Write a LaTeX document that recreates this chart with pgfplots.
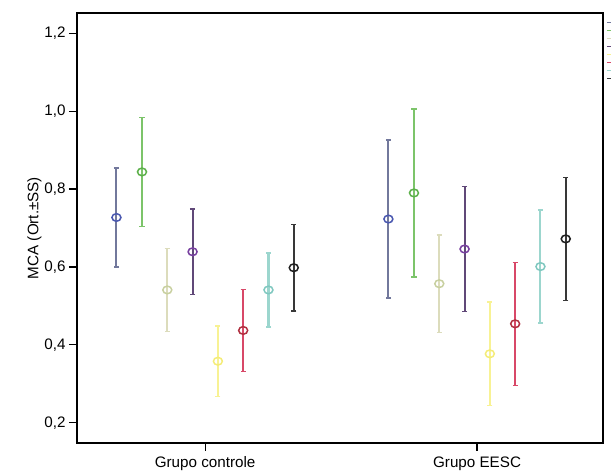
\documentclass[border=0pt]{standalone}
\usepackage{fontspec}
\setmainfont{Liberation Sans}
\usepackage{pgfplots}
\pgfplotsset{compat=1.18}

\definecolor{s1bar}{HTML}{72789C}
\definecolor{s1mk}{HTML}{4A58B0}
\definecolor{s2bar}{HTML}{7CC46A}
\definecolor{s2mk}{HTML}{5CB04A}
\definecolor{s3bar}{HTML}{DCDCBC}
\definecolor{s3mk}{HTML}{C8D0A0}
\definecolor{s4bar}{HTML}{604878}
\definecolor{s4mk}{HTML}{7840A0}
\definecolor{s5bar}{HTML}{F8F294}
\definecolor{s5mk}{HTML}{F4EC78}
\definecolor{s6bar}{HTML}{D84868}
\definecolor{s6mk}{HTML}{B03040}
\definecolor{s7bar}{HTML}{9CD6CE}
\definecolor{s7mk}{HTML}{80C8C0}
\definecolor{s8bar}{HTML}{383838}
\definecolor{s8mk}{HTML}{202020}

\pgfplotsset{
  ebar/.style n args={2}{
    only marks, solid, color=#1, mark=o, mark size=4.5bp,
    mark options={draw=#2, fill=none, line width=1.5bp, solid, yscale=0.85},
    error bars/.cd, y dir=both, y explicit,
    error bar style={line width=2.1bp, color=#1, solid},
    error mark options={rotate=90, mark size=2.6bp, line width=1.5bp, color=#1, solid},
  },
}

\begin{document}
\begin{tikzpicture}
\begin{axis}[
  scale only axis, width=526bp, height=430bp,
  xmin=0.529, xmax=2.463, ymin=0.148, ymax=1.252,
  axis line style={line width=1.3bp},
  xtick={1,2}, xticklabels={Grupo controle, Grupo EESC},
  ytick={0.2,0.4,0.6,0.8,1.0,1.2},
  xtick pos=bottom, ytick pos=left,
  tick align=outside, major tick length=8bp,
  tick style={line width=1.2bp, black},
  yticklabel style={/pgf/number format/.cd, use comma, fixed, fixed zerofill, precision=1, assume math mode=true},
  xticklabel style={yshift=-2bp},
  every tick label/.append style={font=\fontsize{15.2bp}{17bp}\selectfont},
  label style={font=\fontsize{15.2bp}{17bp}\selectfont},
  ylabel={MCA (Ort.±SS)}, ylabel shift=-4bp,
  legend style={at={(1.006,0.985)}, anchor=north west, draw=none, fill=none,
    inner sep=0pt, row sep=2.5bp, font=\fontsize{4bp}{5bp}\selectfont},
  legend image code/.code={\draw[#1, mark=none, line width=1.2bp] (0bp,0bp) -- (6bp,0bp);},
]
\addplot[ebar={s1bar}{s1mk}] coordinates {(0.674,0.727) +- (0,0.127) (1.674,0.723) +- (0,0.203)};
\addlegendentry{}
\addplot[ebar={s2bar}{s2mk}] coordinates {(0.768,0.844) +- (0,0.140) (1.768,0.790) +- (0,0.216)};
\addlegendentry{}
\addplot[ebar={s3bar}{s3mk}] coordinates {(0.861,0.541) +- (0,0.107) (1.861,0.557) +- (0,0.125)};
\addlegendentry{}
\addplot[ebar={s4bar}{s4mk}] coordinates {(0.954,0.639) +- (0,0.110) (1.954,0.646) +- (0,0.160)};
\addlegendentry{}
\addplot[ebar={s5bar}{s5mk}] coordinates {(1.047,0.358) +- (0,0.090) (2.047,0.377) +- (0,0.133)};
\addlegendentry{}
\addplot[ebar={s6bar}{s6mk}] coordinates {(1.140,0.437) +- (0,0.105) (2.140,0.454) +- (0,0.158)};
\addlegendentry{}
\addplot[ebar={s7bar}{s7mk}] coordinates {(1.233,0.541) +- (0,0.095) (2.233,0.601) +- (0,0.145)};
\addlegendentry{}
\addplot[ebar={s8bar}{s8mk}] coordinates {(1.326,0.598) +- (0,0.111) (2.326,0.672) +- (0,0.158)};
\addlegendentry{}
\end{axis}
\pgfresetboundingbox
\path (current axis.south west) ++(-77bp,-31bp) rectangle ++(611bp,474bp);
\end{tikzpicture}
\end{document}
